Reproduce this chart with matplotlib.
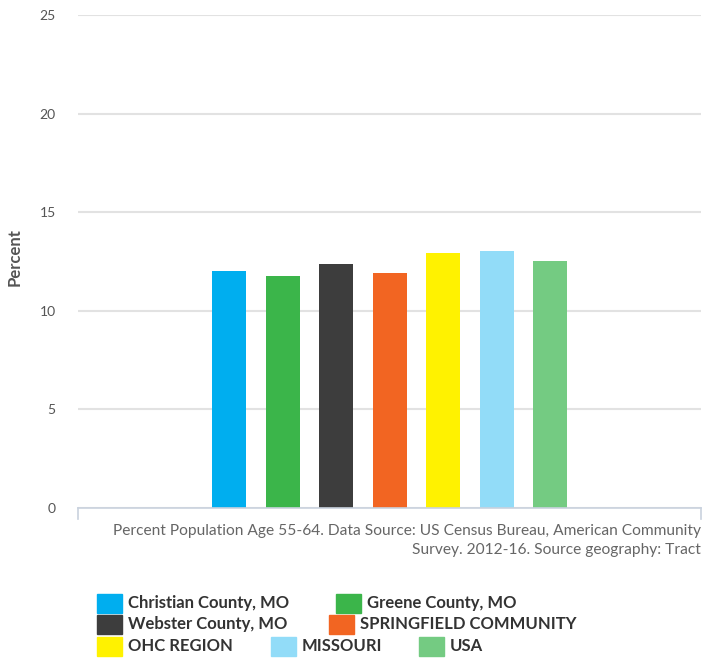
import numpy as np
import matplotlib
matplotlib.use('Agg')
import matplotlib.pyplot as plt
from matplotlib.patches import Rectangle

plt.rcParams['font.family'] = ['Lato', 'DejaVu Sans']

# data
areas = ['Christian County, MO', 'Greene County, MO', 'Webster County, MO',
         'SPRINGFIELD COMMUNITY', 'OHC REGION', 'MISSOURI', 'USA']
values = [12.03, 11.78, 12.39, 11.93, 12.94, 13.05, 12.54]
colors = ['#00AEEF', '#3BB54A', '#3D3D3D', '#F26522', '#FFF200', '#92DCF8', '#74CB82']
yticks = [0, 5, 10, 15, 20, 25]
caption = ('Percent Population Age 55-64. Data Source: US Census Bureau, American Community\n'
           'Survey. 2012-16. Source geography: Tract')

W, H = 703, 662
fig = plt.figure(figsize=(W / 100, H / 100), dpi=100)
ax = fig.add_axes([78 / W, 154 / H, 623 / W, 493 / H])

slot = 53.5 / 623
bw = 34 / 623
xs = (np.arange(len(values)) - (len(values) - 1) / 2) * slot
ax.bar(xs, values, width=bw, color=colors, zorder=3)

ax.set_xlim(-0.5, 0.5)
ax.set_ylim(0, 25)
ax.set_yticks(yticks)
ax.set_yticklabels([str(t) for t in yticks], color='#555555', fontsize=10)
ax.tick_params(axis='y', length=0, pad=16)
ax.set_xticks([])
ax.grid(axis='y', color='#E2E2E2', linewidth=1.5, zorder=0)
for s in ['top', 'right', 'left']:
    ax.spines[s].set_visible(False)
ax.spines['bottom'].set_color('#C9D2DE')
ax.spines['bottom'].set_linewidth(1.2)
ax.spines['bottom'].set_zorder(4)
# end ticks on the category axis
for xe in [-0.5, 0.5]:
    ax.plot([xe, xe], [0, -0.55], color='#C9D2DE', linewidth=1.2, clip_on=False, zorder=4)

ax.set_ylabel('Percent', fontsize=12, fontweight='bold', color='#555555')
ax.yaxis.set_label_coords(-(78 - 23) / 623, 0.51)

fig.text(701 / W, 1 - 524 / H, caption, ha='right', va='top', fontsize=11.2,
         color='#666666', linespacing=1.45)

# legend (flow layout positions in pixels)
legend_pos = [(97, 603), (336, 603), (97, 624), (329, 624), (97, 646), (271, 646), (419, 646)]
for (px, py), lab, c in zip(legend_pos, areas, colors):
    fig.patches.append(Rectangle((px / W, 1 - (py + 9.5) / H), 25 / W, 19 / H,
                                 transform=fig.transFigure, color=c, figure=fig))
    fig.text((px + 31) / W, 1 - py / H, lab, ha='left', va='center', fontsize=12,
             fontweight='bold', color='#333333')

fig.savefig('out.png', dpi=100)
